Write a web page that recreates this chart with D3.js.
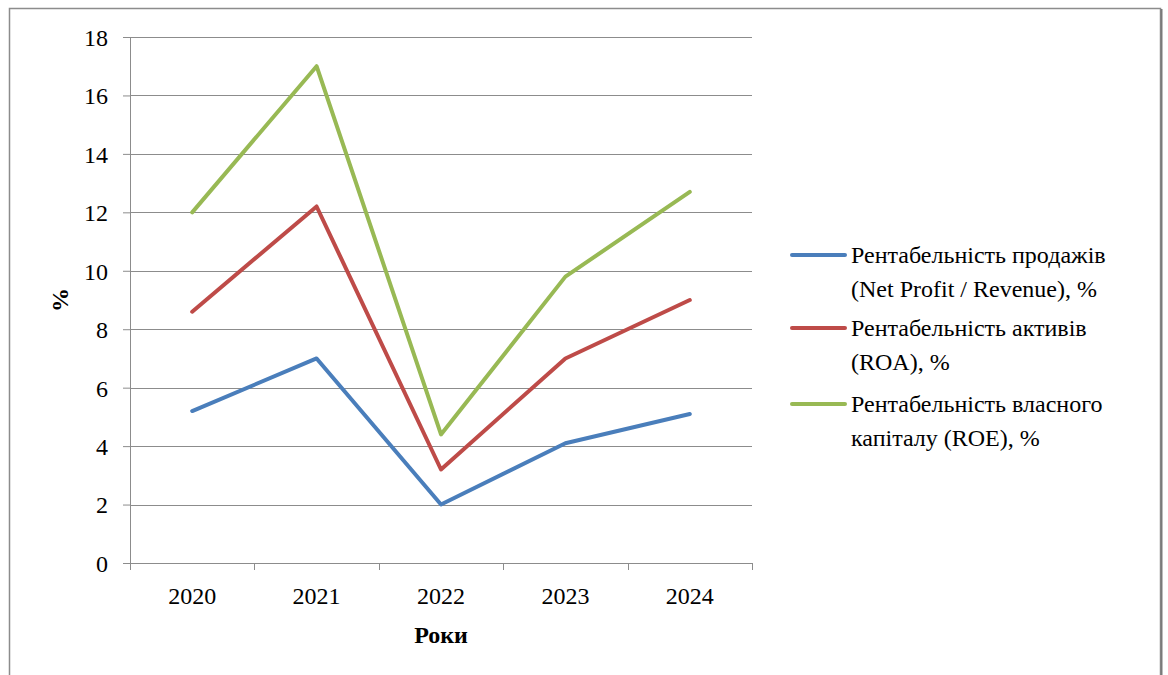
<!DOCTYPE html>
<html>
<head>
    <meta charset="UTF-8">
    <style>
        body { margin: 0; background: #fff; }
        svg text { font-family: "Liberation Serif", "Times New Roman", Times, Tinos, "DejaVu Serif", serif !important; fill: #000; }
    </style>
</head>
<body>
    <div id="chart"></div>
    <script src="https://cdn.jsdelivr.net/npm/d3@7/dist/d3.min.js"></script>
    <script>
    // data
    const years = ["2020", "2021", "2022", "2023", "2024"];
    const salesMargin = [5.2, 7.0, 2.0, 4.1, 5.1];
    const roa = [8.6, 12.2, 3.2, 7.0, 9.0];
    const roe = [12.0, 17.0, 4.4, 9.8, 12.7];
    const yTicks = [0, 2, 4, 6, 8, 10, 12, 14, 16, 18];
    const seriesNames = [
        ["Рентабельність продажів", "(Net Profit / Revenue), %"],
        ["Рентабельність активів", "(ROA), %"],
        ["Рентабельність власного", "капіталу (ROE), %"]
    ];
    const colors = ["#4a7ebb", "#be4b48", "#98b954"];

    const series = [salesMargin, roa, roe].map((vals, i) => ({
        name: seriesNames[i], color: colors[i],
        values: vals.map((v, j) => ({year: years[j], v: v}))
    }));

    const W = 1168, H = 675;
    const margin = {top: 37, left: 130};
    const width = 622, height = 526;

    const svg = d3.select("#chart").append("svg")
        .attr("width", W).attr("height", H);

    // outer frame
    svg.append("rect")
        .attr("x", 9.5).attr("y", 8.5)
        .attr("width", 1151).attr("height", 700)
        .style("fill", "none").style("stroke", "#8c8c8c").style("stroke-width", 1.5);
    svg.append("line")
        .attr("x1", 1161.5).attr("x2", 1161.5).attr("y1", 9).attr("y2", H)
        .style("stroke", "#7a7a7a").style("stroke-width", 2);

    const g = svg.append("g").attr("transform", `translate(${margin.left},${margin.top})`);

    const x = d3.scaleBand().domain(years).range([0, width]);
    const y = d3.scaleLinear().domain([0, 18]).range([height, 0]);

    // gridlines
    g.append("g").selectAll("line")
        .data(yTicks.filter(d => d > 0))
        .join("line")
        .attr("x1", 0).attr("x2", width)
        .attr("y1", d => Math.round(y(d)) + 0.5).attr("y2", d => Math.round(y(d)) + 0.5)
        .style("stroke", "#8c8c8c").style("stroke-width", 1);

    // y axis
    const yAxis = g.append("g")
        .call(d3.axisLeft(y).tickValues(yTicks).tickSize(7).tickPadding(15));
    yAxis.attr("font-family", null);
    yAxis.select(".domain").style("stroke", "#8c8c8c");
    yAxis.selectAll(".tick line").style("stroke", "#8c8c8c");
    yAxis.selectAll("text").style("font-size", "24px").attr("dy", "0.35em");

    // x axis with ticks at category boundaries
    const xAxis = g.append("g").attr("transform", `translate(0,${height})`);
    xAxis.append("line").attr("x1", 0).attr("x2", width).attr("y1", 0.5).attr("y2", 0.5)
        .style("stroke", "#8c8c8c");
    xAxis.selectAll(".xtick")
        .data(years.concat(["end"]))
        .join("line")
        .attr("class", "xtick")
        .attr("x1", (d, i) => Math.round(i * x.step()) + 0.5)
        .attr("x2", (d, i) => Math.round(i * x.step()) + 0.5)
        .attr("y1", 0).attr("y2", 7)
        .style("stroke", "#8c8c8c");
    xAxis.selectAll(".xlabel")
        .data(years)
        .join("text")
        .attr("class", "xlabel")
        .attr("x", d => x(d) + x.bandwidth() / 2)
        .attr("y", 41)
        .attr("text-anchor", "middle")
        .style("font-size", "24px")
        .text(d => d);

    // axis titles
    svg.append("text")
        .attr("x", 441).attr("y", 643)
        .attr("text-anchor", "middle")
        .style("font-size", "24px").style("font-weight", "bold")
        .text("Роки");
    svg.append("text")
        .attr("transform", "translate(68,300) rotate(-90)")
        .attr("text-anchor", "middle")
        .style("font-size", "24px").style("font-weight", "bold")
        .text("%");

    // lines
    const line = d3.line()
        .x(d => x(d.year) + x.bandwidth() / 2)
        .y(d => y(d.v));
    g.append("g").selectAll("path")
        .data(series)
        .join("path")
        .attr("d", d => line(d.values))
        .style("fill", "none")
        .style("stroke", d => d.color)
        .style("stroke-width", 4)
        .style("stroke-linejoin", "round")
        .style("stroke-linecap", "round");

    // legend
    const legend = svg.append("g").attr("transform", "translate(792,255)");
    const item = legend.selectAll("g")
        .data(series)
        .join("g")
        .attr("transform", (d, i) => `translate(0,${[0, 73, 149][i]})`);
    item.append("line")
        .attr("x1", 0).attr("x2", 53).attr("y1", 0).attr("y2", 0)
        .style("stroke", d => d.color).style("stroke-width", 4)
        .style("stroke-linecap", "round");
    item.append("text")
        .attr("x", 59)
        .style("font-size", "24px")
        .selectAll("tspan")
        .data(d => d.name)
        .join("tspan")
        .attr("x", 59)
        .attr("dy", (d, i) => i === 0 ? "0.35em" : "34")
        .text(d => d);
    </script>
</body>
</html>
